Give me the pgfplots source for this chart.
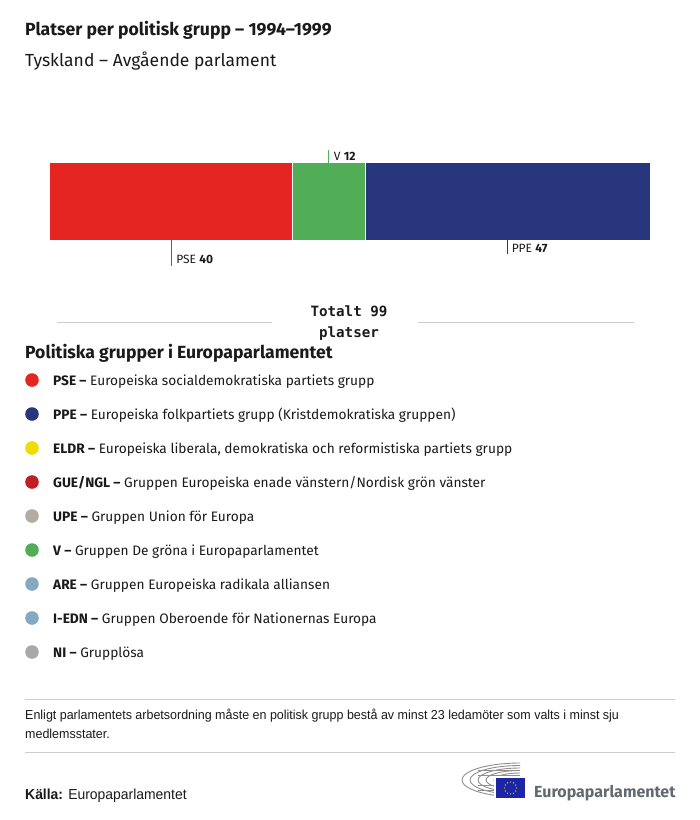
\documentclass[border=0pt]{standalone}
\usepackage{pgfplots}
\pgfplotsset{compat=1.18}
\usepackage{fontspec}
\setmainfont{Fira Sans}
\newfontfamily\monofont{DejaVu Sans Mono}
\newfontfamily\condfont[FakeStretch=0.96]{Liberation Sans}
\definecolor{pse}{HTML}{E52521}
\definecolor{ppe}{HTML}{28367E}
\definecolor{verts}{HTML}{52AE56}
\definecolor{eldr}{HTML}{F0DC00}
\definecolor{gue}{HTML}{C21F24}
\definecolor{upe}{HTML}{B3ACA0}
\definecolor{are}{HTML}{85A9C0}
\definecolor{ni}{HTML}{A8A8A8}
\definecolor{txt}{HTML}{1A1A1A}
\definecolor{rule}{HTML}{CCCCCC}
\definecolor{logo}{HTML}{5F6A72}
\newcommand{\fs}[1]{\fontsize{#1bp}{#1bp}\selectfont}
\begin{document}
\begin{tikzpicture}[every node/.style={inner sep=0pt,text=txt}]
\path[use as bounding box] (0,0) rectangle (700bp,-820bp);
% titles
\node[anchor=base west,font=\fs{17.6}\bfseries] at (25bp,-35bp) {Platser per politisk grupp – 1994–1999};
\node[anchor=base west,font=\fs{17.5}] at (25bp,-66bp) {Tyskland – Avgående parlament};
% bar
\begin{axis}[at={(50bp,-240bp)},anchor=south west,scale only axis,
  width=600bp,height=77bp,xbar stacked,bar width=77bp,
  xmin=0,xmax=99,ymin=0.5,ymax=1.5,hide axis,clip=false]
\addplot[fill=pse,draw=none] coordinates {(40,1)};
\addplot[fill=verts,draw=none] coordinates {(12,1)};
\addplot[fill=ppe,draw=none] coordinates {(47,1)};
\coordinate (cpse) at (axis cs:20,0.5);
\coordinate (cv) at (axis cs:46,1.5);
\coordinate (cppe) at (axis cs:75.5,0.5);
\coordinate (s1a) at (axis cs:40,0.5);
\coordinate (s1b) at (axis cs:40,1.5);
\coordinate (s2a) at (axis cs:52,0.5);
\coordinate (s2b) at (axis cs:52,1.5);
\end{axis}
\draw[white,line width=1bp] (s1a) -- (s1b) (s2a) -- (s2b);
\draw[pse,line width=0.8bp] (cpse) -- ++(0,-26bp);
\node[anchor=base west,font=\fs{12}] at ([xshift=5bp,yshift=-23bp]cpse) {PSE \textbf{40}};
\draw[verts,line width=0.8bp] (cv) -- ++(0,13bp);
\node[anchor=base west,font=\fs{12}] at ([xshift=5bp,yshift=3bp]cv) {V \textbf{12}};
\draw[ppe,line width=0.8bp] (cppe) -- ++(0,-14bp);
\node[anchor=base west,font=\fs{12}] at ([xshift=4bp,yshift=-12bp]cppe) {PPE \textbf{47}};
% total
\draw[rule,line width=0.8bp] (57bp,-322bp) -- (272bp,-322bp);
\draw[rule,line width=0.8bp] (418bp,-322bp) -- (634bp,-322bp);
\node[anchor=base,font=\fs{14.2}\monofont\bfseries] at (349bp,-316bp) {Totalt 99};
\node[anchor=base,font=\fs{14.2}\monofont\bfseries] at (349bp,-337bp) {platser};
% legend
\node[anchor=base west,font=\fs{17.6}\bfseries] at (25bp,-358bp) {Politiska grupper i Europaparlamentet};
\foreach \c/\a/\b [count=\i from 0] in {
  pse/PSE/Europeiska socialdemokratiska partiets grupp,
  ppe/PPE/Europeiska folkpartiets grupp (Kristdemokratiska gruppen),
  eldr/ELDR/Europeiska liberala{,} demokratiska och reformistiska partiets grupp,
  gue/GUE\slash NGL/Gruppen Europeiska enade vänstern\slash Nordisk grön vänster,
  upe/UPE/Gruppen Union för Europa,
  verts/V/Gruppen De gröna i Europaparlamentet,
  are/ARE/Gruppen Europeiska radikala alliansen,
  are/I-EDN/Gruppen Oberoende för Nationernas Europa,
  ni/NI/Grupplösa}{
  \fill[\c] (32bp,{-380bp-\i*34bp}) circle (6.8bp);
  \node[anchor=base west,font=\fs{13.7}] at (53bp,{-385bp-\i*34bp}) {\textbf{\a\ –} \b};
}
% footer
\draw[rule,line width=0.8bp] (25bp,-699bp) -- (675bp,-699bp);
\draw[rule,line width=0.8bp] (25bp,-752bp) -- (675bp,-752bp);
\node[anchor=base west,font=\fs{13}\condfont] at (25bp,-719bp) {Enligt parlamentets arbetsordning måste en politisk grupp bestå av minst 23 ledamöter som valts i minst sju};
\node[anchor=base west,font=\fs{13}\condfont] at (25bp,-738bp) {medlemsstater.};
\node[anchor=base west,font=\fs{14.5}\condfont] at (25bp,-799bp) {\textbf{Källa:} Europaparlamentet};
% logo
\begin{scope}[ni!85!black,line width=0.9bp]
\foreach \rx/\ry in {58/17,50/14.5,42/12,34/9.5,26/7}{
  \draw (520bp,{-780bp+\ry*1bp}) arc[start angle=90,end angle=270,x radius=\rx*1bp,y radius=\ry*1bp];
}
\foreach \yy in {770,775,785,790}{\draw (478bp,-\yy bp) -- (520bp,-\yy bp);}
\end{scope}
\fill[white] (494bp,-776bp) rectangle (527bp,-800bp);
\fill[ppe!70!blue] (496bp,-778bp) rectangle (525bp,-798bp);
\foreach \k in {0,...,11}{\fill[eldr] ({510.5bp+6bp*cos(\k*30)},{-788bp+6bp*sin(\k*30)}) circle (0.7bp);}
\node[anchor=base west,font=\fs{16}\bfseries,text=logo] at (534bp,-797bp) {Europaparlamentet};
\end{tikzpicture}
\end{document}
